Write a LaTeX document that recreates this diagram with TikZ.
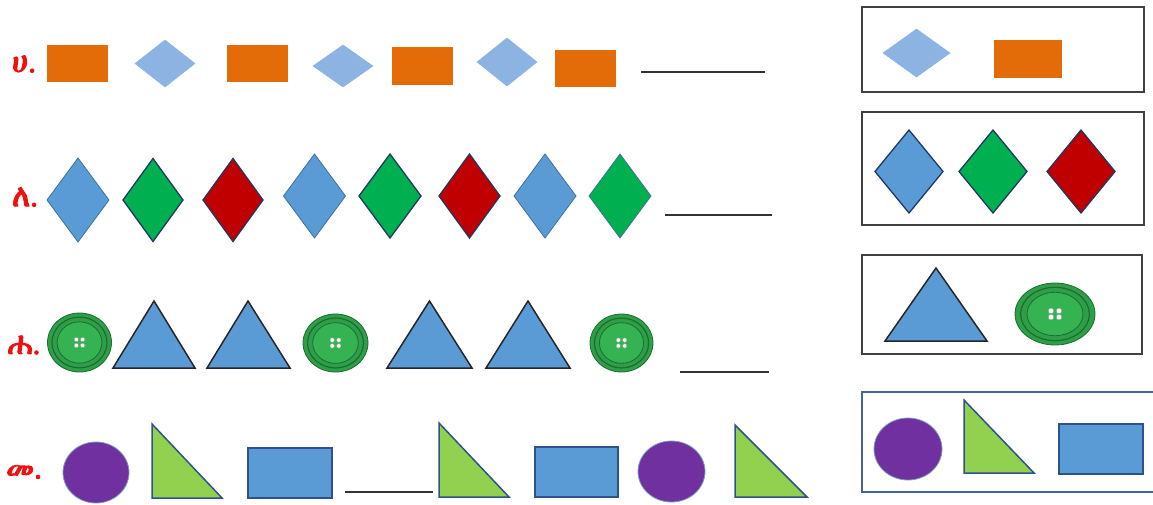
\documentclass[tikz,border=0pt]{standalone}
\usepackage{fontspec}
\IfFontExistsTF{FreeSerif}{\newfontfamily\ethfont[FakeBold=3.5]{FreeSerif}}{\newfontfamily\ethfont{DejaVu Sans}}
\definecolor{orng}{HTML}{E36C09}
\definecolor{lblue}{HTML}{8DB3E2}
\definecolor{mblue}{HTML}{5B9BD5}
\definecolor{grn}{HTML}{00B050}
\definecolor{rd}{HTML}{C00000}
\definecolor{navy}{HTML}{1F3864}
\definecolor{edgeblue}{HTML}{41719C}
\definecolor{purp}{HTML}{7030A0}
\definecolor{lgrn}{HTML}{92D050}
\definecolor{rtedge}{HTML}{2F528F}
\definecolor{btnout}{HTML}{2E9E48}
\definecolor{btndark}{HTML}{1B6E30}
\definecolor{btnin}{HTML}{35B352}
\definecolor{boxedge}{HTML}{404040}
\definecolor{labred}{HTML}{F01010}
\tikzset{
  lab/.style={text=labred, font=\ethfont\fontsize{31}{31}\selectfont, inner sep=0pt},
  orect/.style={fill=orng},
  ldia/.style={fill=lblue, draw=lblue, line width=0.5},
  bdia/.style={fill=mblue, draw=edgeblue, line width=0.8},
  gdia/.style={fill=grn, draw=navy, line width=1.3},
  gdial/.style={fill=grn, draw=edgeblue, line width=0.8},
  rdia/.style={fill=rd, draw=navy, line width=1.3},
  bdiad/.style={fill=mblue, draw=navy, line width=1.3},
  tri/.style={fill=mblue, draw=black!85, line width=1.5, line join=miter},
  rtri/.style={fill=lgrn, draw=rtedge, line width=1.5, line join=miter},
  brect/.style={fill=mblue, draw=rtedge, line width=1.5},
  purc/.style={fill=purp, draw=edgeblue!70, line width=0.8},
  blank/.style={draw=black!80, line width=2.8},
  panel/.style={draw=boxedge, line width=1.5},
  panelb/.style={draw=rtedge!90, line width=1.5},
}
\newcommand\mydia[5]{\filldraw[#5] (#1-#3/2,#2) -- (#1,#2-#4/2) -- (#1+#3/2,#2) -- (#1,#2+#4/2) -- cycle;}
\newcommand\mybtn[4]{%
  \filldraw[fill=btnout, draw=btndark, line width=0.8] (#1,#2) ellipse [x radius=#3, y radius=#4];
  \draw[btndark, line width=1.2] (#1,#2) ellipse [x radius=#3*0.86, y radius=#4*0.86];
  \filldraw[fill=btnin, draw=btndark, line width=0.8] (#1,#2) ellipse [x radius=#3*0.7, y radius=#4*0.7];
  \foreach \dx/\dy in {-1/-1,1/-1,-1/1,1/1}{\filldraw[fill=white, draw=btndark!60, line width=0.4] (#1+\dx*#3*0.1,#2+\dy*#4*0.1) circle [radius=#3*0.07];}
}
\begin{document}
\begin{tikzpicture}[x=1pt,y=-1pt]
\useasboundingbox (0,0) rectangle (1153,504);
\clip (0,0) rectangle (1153,504);
% labels
\node[lab] (l1) at (24,64) {ሀ.};
\node[lab] (l2) at (25,197) {ለ.};
\node[lab] (l3) at (24,345) {ሐ.};
\node[lab] (l4) at (24,472) {መ.};
% row 1
\fill[orect] (47,45) rectangle (108,82);
\mydia{165}{63.5}{60}{47}{ldia}
\fill[orect] (227,45) rectangle (288,82);
\mydia{343}{66}{60}{42}{ldia}
\fill[orect] (392,47) rectangle (453,85);
\mydia{507}{62}{60}{48}{ldia}
\fill[orect] (555,50) rectangle (616,87);
\draw[blank] (641,72) -- (765,72);
% row 2
\mydia{78}{200}{62}{84}{bdia}
\mydia{153}{200}{60}{83}{gdia}
\mydia{233}{200}{60}{83}{rdia}
\mydia{314.5}{196}{62}{84}{bdia}
\mydia{390}{196}{62}{84}{gdia}
\mydia{469.5}{196}{61}{84}{rdia}
\mydia{545}{196}{62}{84}{bdia}
\mydia{620}{196}{62}{84}{gdial}
\draw[blank] (665,215) -- (772,215);
% row 3
\mybtn{79.5}{342.5}{32}{29.5}
\filldraw[tri] (113,368) -- (154,301) -- (195,368) -- cycle;
\filldraw[tri] (207,368) -- (248,301) -- (290,368) -- cycle;
\mybtn{335.5}{343}{32.5}{29}
\filldraw[tri] (387,368) -- (429.5,301) -- (472,368) -- cycle;
\filldraw[tri] (486,368) -- (528,301) -- (570,368) -- cycle;
\mybtn{621.5}{343}{31.5}{29}
\draw[blank] (680,372) -- (769,372);
% row 4
\filldraw[purc] (96,472.5) ellipse [x radius=33, y radius=30.5];
\filldraw[rtri] (152,424) -- (152,498) -- (222,498) -- cycle;
\filldraw[brect] (248,448) rectangle (332,498);
\draw[blank] (345,492) -- (433,492);
\filldraw[rtri] (439,423) -- (439,497) -- (509,497) -- cycle;
\filldraw[brect] (535,447) rectangle (618,497);
\filldraw[purc] (671.5,471.5) ellipse [x radius=33.5, y radius=30.5];
\filldraw[rtri] (735,425) -- (735,497) -- (807,497) -- cycle;
% right panel
\draw[panel] (862,7) rectangle (1144,92);
\mydia{916.5}{53}{67}{48}{ldia}
\fill[orect] (994,40) rectangle (1062,78);
\draw[panel] (862,112) rectangle (1144,225);
\mydia{909}{171.5}{68}{83}{bdiad}
\mydia{993}{171.5}{68}{83}{gdia}
\mydia{1081}{171.5}{68}{83}{rdia}
\draw[panel] (862,255) rectangle (1142,354);
\filldraw[tri] (885,341) -- (936,268) -- (987,341) -- cycle;
\mybtn{1055}{314}{40}{31}
\draw[panelb] (862,392) rectangle (1160,492);
\filldraw[purc] (908,449) ellipse [x radius=34, y radius=31];
\filldraw[rtri] (964,400) -- (964,473) -- (1034,473) -- cycle;
\filldraw[brect] (1059,424) rectangle (1143,474);
\end{tikzpicture}
\end{document}
